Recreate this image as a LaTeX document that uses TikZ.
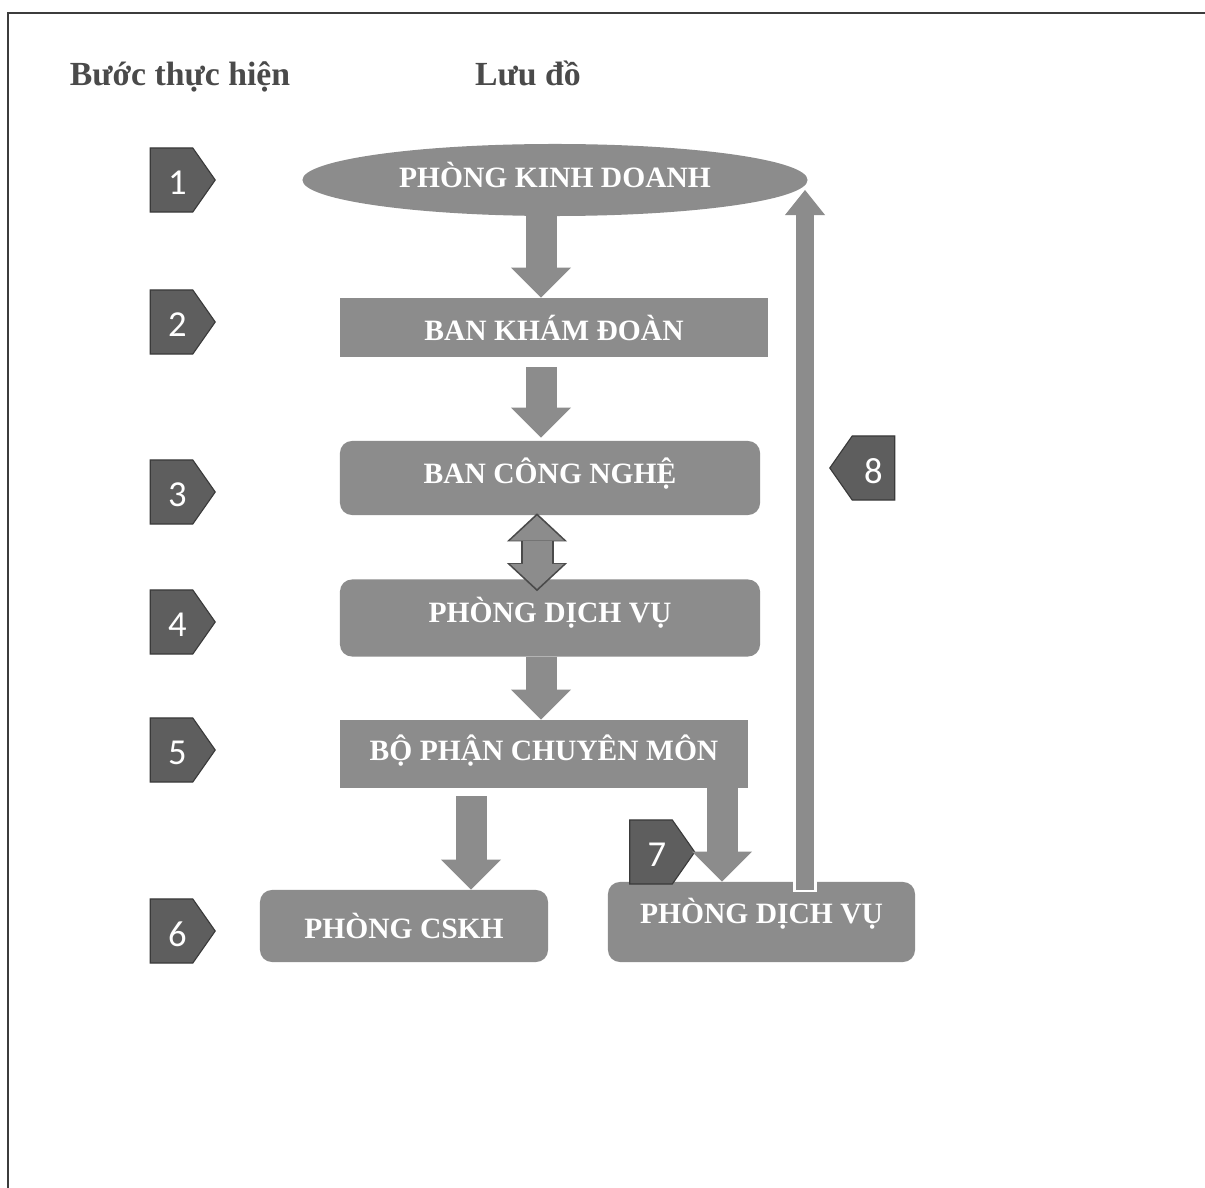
\documentclass[tikz,border=0pt]{standalone}
\usepackage{fontspec}
\setmainfont{Liberation Serif}
\newfontfamily\numfont{Carlito}
\usetikzlibrary{shapes.geometric,shapes.symbols,arrows.meta,calc}
\definecolor{boxgray}{HTML}{8C8C8C}
\definecolor{badgegray}{HTML}{5E5E5E}
\definecolor{badgeline}{HTML}{3A3A3A}
\definecolor{titlegray}{HTML}{4A4A4A}
\definecolor{framegray}{HTML}{3C3C3C}
\definecolor{dblline}{HTML}{4A4A4A}
\begin{document}
\begin{tikzpicture}[x=0.025cm,y=-0.025cm,
 boxtext/.style={text=white,font=\fontsize{21}{25}\selectfont\bfseries},
 flatbox/.style={rectangle,fill=boxgray,boxtext,inner sep=0pt},
 roundbox/.style={flatbox,rounded corners=0.3cm},
 ovalbox/.style={ellipse,fill=boxgray,boxtext,inner sep=0pt},
 badgenum/.style={text=white,font=\numfont\fontsize{26}{30}\selectfont,inner sep=0pt,yshift=-0.07cm},
 badgebase/.style={signal,signal pointer angle=110,fill=badgegray,draw=badgeline,line width=0.8pt,minimum width=1.625cm,minimum height=1.6cm,inner sep=0pt},
 badgeE/.style={badgebase,signal to=east,label={[badgenum,xshift=0.15cm]center:#1}},
 badgeW/.style={badgebase,signal to=west,label={[badgenum]center:#1}},
 title/.style={text=titlegray,font=\fontsize{24}{28}\selectfont\bfseries,anchor=base},
 downarrow/.style={draw=boxgray,line width=0.775cm,-{Triangle[width=1.5cm,length=0.75cm,line width=0pt]}},
 dbloutline/.style={draw=dblline,line width=0.825cm,{Triangle[width=1.5cm,length=0.7cm,line width=0pt]}-{Triangle[width=1.5cm,length=0.7cm,line width=0pt]}},
 dblinner/.style={draw=boxgray,line width=0.725cm,{Triangle[width=1.35cm,length=0.625cm,line width=0pt]}-{Triangle[width=1.35cm,length=0.625cm,line width=0pt]},shorten <=0.06cm,shorten >=0.06cm},
 upwhite/.style={draw=white,line width=0.6cm},
 uparrow/.style={draw=boxgray,line width=0.45cm,-{Triangle[width=1.0cm,length=0.625cm,line width=0pt]}}
]
\useasboundingbox (0,0) rectangle (1205,1188);
\fill[white] (0,0) rectangle (1205,1188);
\draw[framegray,line width=1.2pt] (1205,13) -- (8,13) -- (8,1188);

\node[title] (t1) at (180,86) {Bước thực hiện};
\node[title] (t2) at (528,86) {Lưu đồ};

% flowchart boxes
\node[ovalbox,minimum width=12.625cm,minimum height=1.8cm,text depth=0.25cm] (b1) at (555,180) {PHÒNG KINH DOANH};
\node[flatbox,minimum width=10.7cm,minimum height=1.475cm] (b2) at (554,327.5) {BAN KHÁM ĐOÀN};
\node[roundbox,minimum width=10.5cm,minimum height=1.85cm,text depth=0.35cm] (b3) at (550,478) {BAN CÔNG NGHỆ};
\node[roundbox,minimum width=10.5cm,minimum height=1.925cm,text depth=0.4cm] (b4) at (550,618) {PHÒNG DỊCH VỤ};
\node[flatbox,minimum width=10.2cm,minimum height=1.7cm,text depth=0.3cm] (b5) at (544,754) {BỘ PHẬN CHUYÊN MÔN};
\node[roundbox,minimum width=7.2cm,minimum height=1.8cm] (b6) at (404,926) {PHÒNG CSKH};
\node[roundbox,minimum width=7.675cm,minimum height=2cm,text depth=0.55cm] (b7) at (761.5,922) {PHÒNG DỊCH VỤ};

% step badges
\node[badgeE=1] (s1) at (171.5,180) {};
\node[badgeE=2] (s2) at (171.5,322) {};
\node[badgeE=3] (s3) at (171.5,492) {};
\node[badgeE=4] (s4) at (171.5,622) {};
\node[badgeE=5] (s5) at (171.5,750) {};
\node[badgeE=6] (s6) at (171.5,931) {};
\node[badgeE=7] (s7) at (651,852) {};
\node[badgeW=8] (s8) at (873.5,468) {};

% arrows
\coordinate (ax) at (541,0);
\coordinate (ax5a) at (471,0);
\coordinate (ax5b) at (722,0);
\coordinate (ux) at (805,0);
\draw[downarrow] (b1.south -| ax) -- (b2.north -| ax);
\draw[downarrow,shorten <=0.25cm] (b2.south -| ax) -- ($(b3.north -| ax)+(0,-3)$);
\draw[dbloutline] ($(b3.south -| ax)+(-4,-2)$) -- ($(b4.north -| ax)+(-4,12)$);
\draw[dblinner] ($(b3.south -| ax)+(-4,-2)$) -- ($(b4.north -| ax)+(-4,12)$);
\draw[downarrow] (b4.south -| ax) -- (b5.north -| ax);
\draw[downarrow,shorten <=0.2cm] (b5.south -| ax5a) -- (b6.north -| ax5a);
\draw[downarrow] (b5.south -| ax5b) -- (b7.north -| ax5b);
\draw[upwhite] ($(b7.north -| ux)+(0,10)$) -- ($(b7.north -| ux)+(0,-10)$);
\draw[uparrow] ($(b7.north -| ux)+(0,8)$) -- ($(b1.east -| ux)+(0,10)$);
\end{tikzpicture}
\end{document}
